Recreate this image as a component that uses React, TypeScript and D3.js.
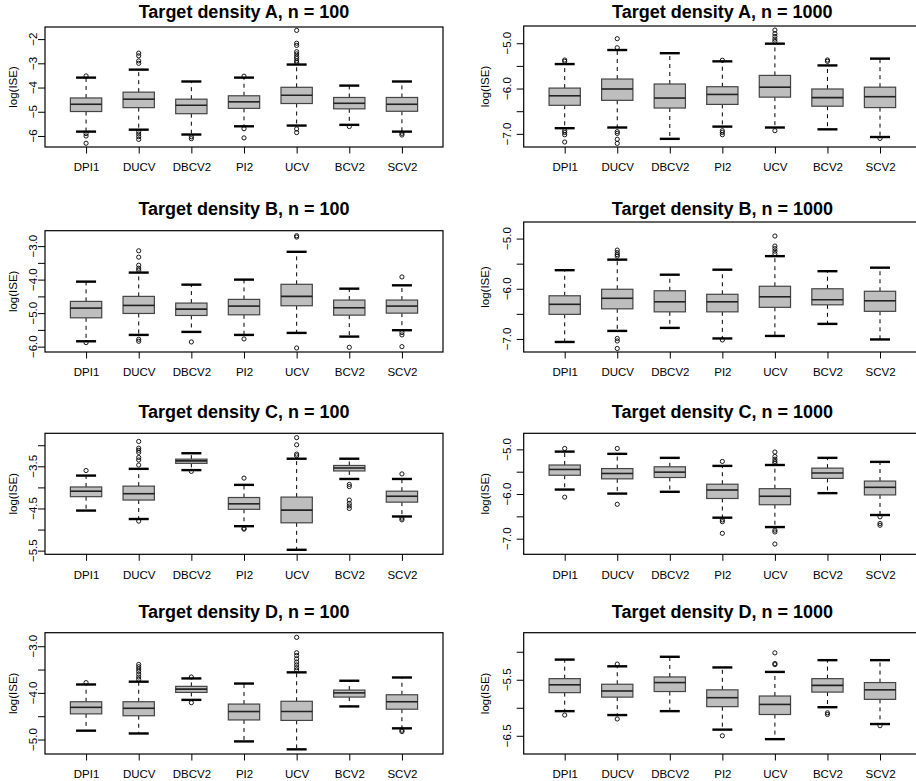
import React, { useEffect, useRef } from 'react';
import * as d3 from 'd3';

const methods = ['DPI1', 'DUCV', 'DBCV2', 'PI2', 'UCV', 'BCV2', 'SCV2'];

// [lower whisker, Q1, median, Q3, upper whisker] per method
const statsA100 = [
  [-5.82, -4.99, -4.69, -4.43, -3.59],
  [-5.74, -4.83, -4.48, -4.19, -3.26],
  [-5.94, -5.08, -4.73, -4.48, -3.75],
  [-5.6, -4.86, -4.59, -4.34, -3.59],
  [-5.57, -4.66, -4.32, -3.99, -3.05],
  [-5.54, -4.88, -4.65, -4.41, -3.92],
  [-5.82, -4.98, -4.69, -4.41, -3.75],
];
const outA100 = [
  [-3.52, -5.9, -6.0, -6.3],
  [-2.58, -2.69, -2.9, -3.0, -5.82, -5.92, -6.03, -6.14],
  [-6.03, -6.11],
  [-3.53, -5.7, -6.08],
  [-1.64, -2.17, -2.26, -2.52, -2.61, -2.72, -2.8, -2.9, -2.97, -5.71, -5.86],
  [-5.61],
  [-5.89, -5.96],
];

const statsA1000 = [
  [-6.875, -6.37, -6.16, -5.99, -5.46],
  [-6.86, -6.26, -6.01, -5.79, -5.15],
  [-7.11, -6.43, -6.21, -5.9, -5.22],
  [-6.84, -6.35, -6.13, -5.96, -5.4],
  [-6.86, -6.19, -5.97, -5.71, -5.01],
  [-6.9, -6.39, -6.2, -6.01, -5.49],
  [-7.07, -6.42, -6.18, -5.97, -5.34],
];
const outA1000 = [
  [-5.37, -5.4, -6.93, -6.97, -7.02, -7.18],
  [-4.9, -5.1, -6.95, -6.99, -7.12, -7.21],
  [],
  [-5.375, -6.93, -6.97, -7.02],
  [-4.71, -4.79, -4.85, -4.91, -4.96, -6.93],
  [-5.37, -5.4],
  [-7.1],
];

const statsB100 = [
  [-5.84, -5.14, -4.85, -4.65, -4.06],
  [-5.65, -5.01, -4.77, -4.5, -3.79],
  [-5.56, -5.07, -4.88, -4.7, -4.15],
  [-5.65, -5.05, -4.79, -4.59, -4.0],
  [-5.59, -4.78, -4.5, -4.14, -3.17],
  [-5.7, -5.06, -4.84, -4.61, -4.27],
  [-5.51, -5.0, -4.79, -4.61, -4.17],
];
const outB100 = [
  [-5.88],
  [-3.14, -3.33, -3.57, -3.66, -3.72, -5.78, -5.84],
  [-5.86],
  [-5.77],
  [-2.69, -2.73, -6.04],
  [-6.02],
  [-3.92, -5.58, -5.65, -6.0],
];

const statsB1000 = [
  [-7.06, -6.51, -6.31, -6.14, -5.63],
  [-6.84, -6.4, -6.19, -6.01, -5.42],
  [-6.78, -6.46, -6.26, -6.04, -5.72],
  [-6.99, -6.46, -6.26, -6.11, -5.62],
  [-6.94, -6.37, -6.16, -5.95, -5.35],
  [-6.7, -6.32, -6.22, -6.0, -5.65],
  [-7.01, -6.45, -6.24, -6.05, -5.58],
];
const outB1000 = [
  [],
  [-5.23, -5.28, -5.32, -5.35, -6.99, -7.04, -7.19],
  [],
  [-7.02],
  [-4.95, -5.15, -5.2, -5.25, -5.3],
  [],
  [],
];

const statsC100 = [
  [-4.55, -4.22, -4.09, -3.99, -3.72],
  [-4.75, -4.3, -4.15, -3.97, -3.56],
  [-3.59, -3.43, -3.37, -3.33, -3.19],
  [-4.92, -4.52, -4.39, -4.24, -3.94],
  [-5.48, -4.84, -4.54, -4.23, -3.32],
  [-3.8, -3.61, -3.54, -3.48, -3.32],
  [-4.69, -4.35, -4.21, -4.09, -3.8],
];
const outC100 = [
  [-3.6],
  [-2.91, -3.07, -3.12, -3.17, -3.29, -3.35, -3.47, -4.8],
  [-3.62],
  [-3.78, -4.97, -4.99],
  [-2.82, -2.99, -3.21, -3.25],
  [-3.93, -3.98, -4.3, -4.38, -4.44, -4.5],
  [-3.68, -4.73, -4.77],
];

const statsC1000 = [
  [-5.9, -5.58, -5.45, -5.35, -5.05],
  [-5.99, -5.66, -5.54, -5.43, -5.1],
  [-5.95, -5.63, -5.51, -5.39, -5.19],
  [-6.53, -6.1, -5.91, -5.78, -5.37],
  [-6.74, -6.24, -6.05, -5.88, -5.35],
  [-5.98, -5.65, -5.53, -5.42, -5.19],
  [-6.47, -6.02, -5.85, -5.71, -5.28],
];
const outC1000 = [
  [-4.98, -6.07],
  [-4.98, -6.23],
  [],
  [-5.27, -6.58, -6.62, -6.88],
  [-5.06, -5.16, -5.22, -5.27, -5.31, -6.81, -6.85, -7.12],
  [],
  [-6.51, -6.66, -6.7],
];

const statsD100 = [
  [-4.81, -4.45, -4.31, -4.19, -3.82],
  [-4.87, -4.49, -4.33, -4.19, -3.76],
  [-4.15, -3.99, -3.92, -3.86, -3.69],
  [-5.04, -4.58, -4.4, -4.24, -3.8],
  [-5.21, -4.59, -4.4, -4.18, -3.56],
  [-4.29, -4.09, -4.0, -3.94, -3.74],
  [-4.76, -4.35, -4.19, -4.04, -3.67],
];
const outD100 = [
  [-3.78],
  [-3.39, -3.44, -3.49, -3.54, -3.6, -3.66, -3.71],
  [-3.66, -4.21],
  [],
  [-2.81, -3.14, -3.2, -3.27, -3.34, -3.4, -3.46, -3.51],
  [],
  [-4.8, -4.83],
];

const statsD1000 = [
  [-6.06, -5.73, -5.59, -5.48, -5.14],
  [-6.13, -5.81, -5.7, -5.58, -5.26],
  [-6.06, -5.71, -5.55, -5.45, -5.09],
  [-6.39, -5.98, -5.82, -5.68, -5.28],
  [-6.56, -6.12, -5.94, -5.79, -5.36],
  [-5.99, -5.72, -5.6, -5.48, -5.15],
  [-6.29, -5.85, -5.68, -5.55, -5.15],
];
const outD1000 = [
  [-6.13],
  [-5.22, -6.2],
  [],
  [-6.5],
  [-5.02, -5.21, -5.23],
  [-6.09, -6.12],
  [-6.32],
];

const titles = [
  'Target density A, n = 100', 'Target density A, n = 1000',
  'Target density B, n = 100', 'Target density B, n = 1000',
  'Target density C, n = 100', 'Target density C, n = 1000',
  'Target density D, n = 100', 'Target density D, n = 1000',
];
const ylims = [
  [-6.455, -1.5], [-7.29, -4.62],
  [-6.16, -2.54], [-7.26, -4.67],
  [-5.587, -2.717], [-7.35, -4.64],
  [-5.31, -2.71], [-6.825, -4.66],
];
const yTicks = [
  [-6, -5, -4, -3, -2], [-7, -6.5, -6, -5.5, -5],
  [-6, -5.5, -5, -4.5, -4, -3.5, -3], [-7, -6.5, -6, -5.5, -5],
  [-5.5, -5, -4.5, -4, -3.5, -3], [-7, -6.5, -6, -5.5, -5],
  [-5, -4.5, -4, -3.5, -3], [-6.5, -6, -5.5, -5],
];
const yTickLabels = [
  ['−6', '−5', '−4', '−3', '−2'], ['−7.0', '', '−6.0', '', '−5.0'],
  ['−6.0', '', '−5.0', '', '−4.0', '', '−3.0'], ['−7.0', '', '−6.0', '', '−5.0'],
  ['−5.5', '', '−4.5', '', '−3.5', ''], ['−7.0', '', '−6.0', '', '−5.0'],
  ['−5.0', '', '−4.0', '', '−3.0'], ['−6.5', '', '−5.5', ''],
];
const stats = [statsA100, statsA1000, statsB100, statsB1000, statsC100, statsC1000, statsD100, statsD1000];
const outliers = [outA100, outA1000, outB100, outB1000, outC100, outC1000, outD100, outD1000];

// layout of the plot regions
const colX = [[45, 443], [523.7, 921]];
const tickLabelOff = [7.5, 13];
const yLabelOff = [28, 35];
const rowTops = [[27, 26], [230.7, 222], [433.3, 433.3], [632.7, 632.7]];
const rowBottoms = [147, 352, 554.3, 754];
const titleBase = [18, 215, 418, 618];

const FONT = '"Liberation Sans", Arial, Helvetica, sans-serif';

const App = () => {
  const svgRef = useRef(null);

  useEffect(() => {
    const svg = d3.select(svgRef.current);
    svg.selectAll('*').remove();
    svg.append('rect').attr('width', 916).attr('height', 781).attr('fill', '#fff');

    titles.forEach((title, p) => {
      const col = p % 2;
      const row = Math.floor(p / 2);
      const [L, R] = colX[col];
      const T = rowTops[row][col];
      const B = rowBottoms[row];

      const x = d3.scalePoint().domain(methods).range([L, R]).padding(0.78);
      const y = d3.scaleLinear().domain(ylims[p]).range([B, T]);
      const bw = x.step() * 0.595;
      const sw = x.step() * 0.38;

      const g = svg.append('g').attr('font-family', FONT);

      // boxes
      methods.forEach((m, i) => {
        const [lo, q1, med, q3, hi] = stats[p][i];
        const cx = x(m);
        const bg = g.append('g');
        bg.append('line')
          .attr('x1', cx).attr('x2', cx).attr('y1', y(q3)).attr('y2', y(hi))
          .attr('stroke', '#000').attr('stroke-width', 1).attr('stroke-dasharray', '4,4');
        bg.append('line')
          .attr('x1', cx).attr('x2', cx).attr('y1', y(q1)).attr('y2', y(lo))
          .attr('stroke', '#000').attr('stroke-width', 1).attr('stroke-dasharray', '4,4');
        [lo, hi].forEach(v => {
          bg.append('line')
            .attr('x1', cx - sw / 2).attr('x2', cx + sw / 2).attr('y1', y(v)).attr('y2', y(v))
            .attr('stroke', '#000').attr('stroke-width', 2.4);
        });
        bg.append('rect')
          .attr('x', cx - bw / 2).attr('y', y(q3))
          .attr('width', bw).attr('height', y(q1) - y(q3))
          .attr('fill', '#bebebe').attr('stroke', '#444').attr('stroke-width', 1.2);
        bg.append('line')
          .attr('x1', cx - bw / 2).attr('x2', cx + bw / 2).attr('y1', y(med)).attr('y2', y(med))
          .attr('stroke', '#222').attr('stroke-width', 1.6);
        bg.selectAll('circle')
          .data(outliers[p][i])
          .enter()
          .append('circle')
          .attr('cx', cx).attr('cy', v => y(v)).attr('r', 2.1)
          .attr('fill', 'none').attr('stroke', '#000').attr('stroke-width', 0.9);
      });

      // frame
      g.append('rect')
        .attr('x', L).attr('y', T).attr('width', R - L).attr('height', B - T)
        .attr('fill', 'none').attr('stroke', '#000').attr('stroke-width', 1.2);

      // x axis
      const xAxis = g.append('g')
        .attr('transform', `translate(0, ${B})`)
        .call(d3.axisBottom(x).tickSize(6.5).tickSizeOuter(0).tickPadding(9.8));
      xAxis.select('.domain').remove();
      xAxis.selectAll('line').attr('stroke', '#000').attr('stroke-width', 1);
      xAxis.selectAll('text').attr('font-size', 11.5).attr('fill', '#000').attr('font-family', FONT);

      // y axis
      const yAxis = g.append('g')
        .attr('transform', `translate(${L}, 0)`)
        .call(d3.axisLeft(y).tickValues(yTicks[p]).tickSize(7).tickSizeOuter(0).tickFormat(() => ''));
      yAxis.select('.domain').remove();
      yAxis.selectAll('line').attr('stroke', '#000').attr('stroke-width', 1);
      yTicks[p].forEach((v, k) => {
        const lab = yTickLabels[p][k];
        if (!lab) return;
        const tx = L - tickLabelOff[col];
        g.append('text')
          .attr('x', tx).attr('y', y(v))
          .attr('transform', `rotate(-90, ${tx}, ${y(v)})`)
          .attr('text-anchor', 'middle')
          .attr('font-size', 11.5)
          .text(lab);
      });

      // y label
      const lx = L - yLabelOff[col];
      const ly = (T + B) / 2;
      g.append('text')
        .attr('x', lx).attr('y', ly)
        .attr('transform', `rotate(-90, ${lx}, ${ly})`)
        .attr('text-anchor', 'middle')
        .attr('font-size', 11.5)
        .text('log(ISE)');

      // title
      g.append('text')
        .attr('x', (L + R) / 2).attr('y', titleBase[row])
        .attr('text-anchor', 'middle')
        .attr('font-size', 18)
        .attr('font-weight', 'bold')
        .text(title);
    });
  }, []);

  return (
    <svg
      ref={svgRef}
      width={916}
      height={781}
      style={{ position: 'absolute', left: 0, top: 0, display: 'block' }}
    ></svg>
  );
};

export default App;
